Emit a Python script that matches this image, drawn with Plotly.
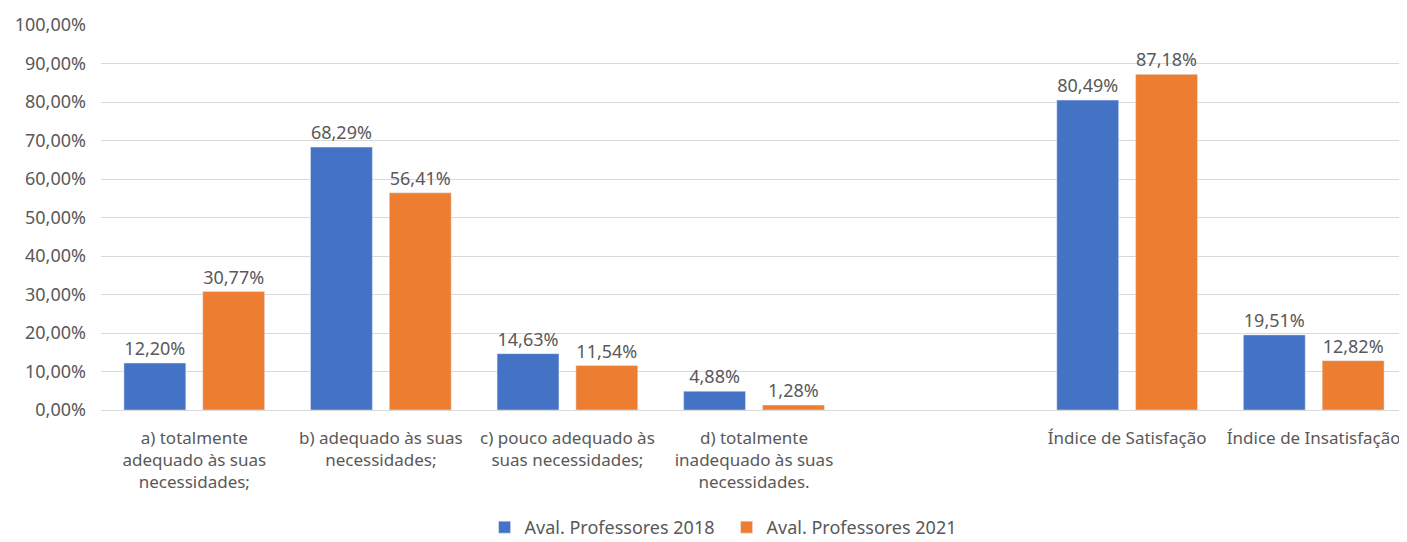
import plotly.graph_objects as go

# Categorias (a posição vazia separa os índices)
categorias = [
    "a) totalmente<br>adequado às suas<br>necessidades;",
    "b) adequado às suas<br>necessidades;",
    "c) pouco adequado às<br>suas necessidades;",
    "d) totalmente<br>inadequado às suas<br>necessidades.",
    "",
    "Índice de Satisfação",
    "Índice de Insatisfação",
]
aval_2018 = [12.20, 68.29, 14.63, 4.88, None, 80.49, 19.51]
aval_2021 = [30.77, 56.41, 11.54, 1.28, None, 87.18, 12.82]
y_ticks = list(range(0, 101, 10))

pos = list(range(len(categorias)))
cinza = "#595959"
fonte = "Noto Sans"

fig = go.Figure()
fig.add_trace(go.Bar(x=pos, y=aval_2018, name="Aval. Professores 2018",
                     marker_color="#4472C4",
                     texttemplate="%{y:.2f}%", textposition="outside",
                     textfont=dict(color=cinza, size=18, family=fonte),
                     cliponaxis=False))
fig.add_trace(go.Bar(x=pos, y=aval_2021, name="Aval. Professores 2021",
                     marker_color="#ED7D31",
                     texttemplate="%{y:.2f}%", textposition="outside",
                     textfont=dict(color=cinza, size=18, family=fonte),
                     cliponaxis=False))

# a página tem margem de 8px no body
fig.update_layout(
    width=1399, height=534,
    margin=dict(l=93, r=0, t=17, b=132, autoexpand=False),
    paper_bgcolor="white", plot_bgcolor="white",
    separators=",.",
    barmode="group", bargap=0.155, bargroupgap=0.215,
    font=dict(family=fonte, size=18, color=cinza),
    legend=dict(orientation="h", x=0.479, xanchor="center", y=-0.305, yanchor="middle",
                font=dict(size=18, color=cinza), itemwidth=30, entrywidth=197),
    showlegend=True,
)
fig.update_xaxes(tickvals=pos, ticktext=categorias, range=[-0.5, 6.5],
                 showgrid=False, showline=False, ticks="", ticklabelstandoff=16,
                 tickfont=dict(size=17, color=cinza))
fig.update_yaxes(range=[0, 100], tickvals=y_ticks,
                 ticktext=[f"{v},00%" for v in y_ticks],
                 showgrid=True, gridcolor="#D9D9D9", gridwidth=1,
                 zeroline=True, zerolinecolor="#D9D9D9", zerolinewidth=1,
                 showline=False, ticks="", ticklabelstandoff=14,
                 tickfont=dict(size=18, color=cinza))

fig.write_html("out.html")
